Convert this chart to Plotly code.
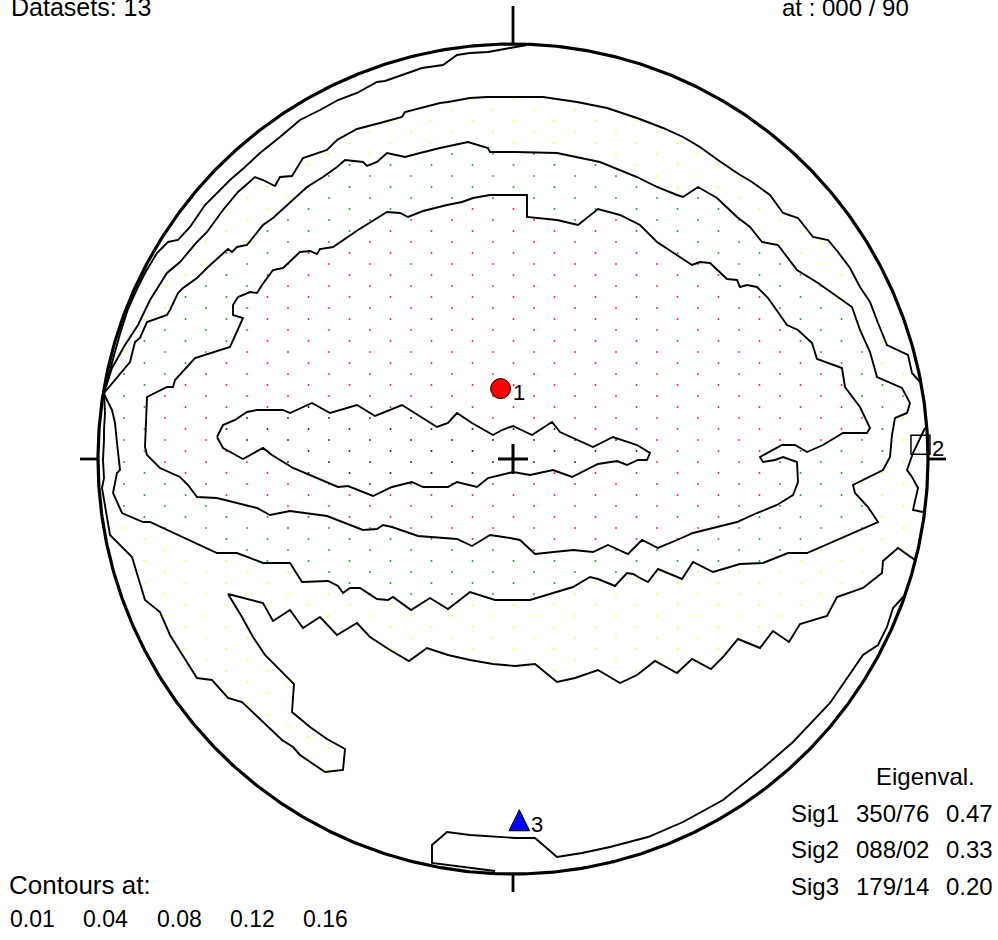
import numpy as np
import plotly.graph_objects as go

# ---------------------------------------------------------------- data
n_datasets = 13
view_trend, view_plunge = 0, 90
contour_levels = [0.01, 0.04, 0.08, 0.12, 0.16]

axis_names = ["Sig1", "Sig2", "Sig3"]
axis_trend = [350, 88, 179]
axis_plunge = [76, 2, 14]
eigenvalues = [0.47, 0.33, 0.20]

# Contour vertices on the projection plane (x east, y north), net radius = 415 units
NET_RADIUS = 415.0

contour_a = [(-409, 66), (-405, 80), (-400, 100), (-393, 125), (-385, 150), (-376, 170), (-368, 186),
             (-356, 206), (-345, 217), (-335, 219), (-323, 232), (-308, 254), (-283, 279), (-268, 292),
             (-253, 306), (-233, 322), (-213, 339), (-193, 349), (-175, 359), (-156, 366), (-136, 377),
             (-128, 378), (-110, 384), (-91, 391), (-70, 394), (-56, 404), (-43, 406), (-25, 407),
             (-3, 411), (14, 414)]

contour_b_north = [(-409, 66), (-401, 91), (-388, 114), (-375, 134), (-363, 159), (-346, 186), (-333, 197),
                   (-316, 217), (-306, 227), (-290, 249), (-275, 267), (-258, 282), (-250, 279), (-238, 273),
                   (-233, 282), (-221, 283), (-210, 301), (-186, 309), (-176, 319), (-156, 330), (-133, 336),
                   (-111, 342), (-108, 347), (-93, 351), (-73, 356), (-65, 357), (-43, 361), (-26, 362),
                   (-3, 362), (30, 362), (64, 357), (94, 351), (124, 341), (150, 331), (170, 322), (187, 312),
                   (205, 299), (224, 286), (239, 277), (257, 264), (270, 246), (285, 241), (300, 222),
                   (315, 219), (325, 207), (337, 191), (347, 172), (357, 157), (365, 136), (374, 114),
                   (395, 104), (399, 86), (407, 77)]

contour_b_south = [(-409, 66), (-408, 46), (-409, 29), (-409, 19), (-410, -1), (-409, -19), (-411, -29),
                   (-404, -73), (-403, -76), (-381, -98), (-373, -123), (-368, -141), (-353, -153),
                   (-343, -176), (-335, -189), (-316, -219), (-301, -221), (-285, -239), (-271, -243),
                   (-245, -268), (-231, -281), (-220, -288), (-213, -296), (-188, -313), (-170, -311),
                   (-168, -290), (-186, -280), (-203, -268), (-221, -253), (-219, -225), (-233, -211),
                   (-248, -196), (-260, -178), (-271, -158), (-285, -135), (-250, -144), (-240, -162),
                   (-223, -151), (-210, -169), (-193, -158), (-176, -176), (-156, -164), (-143, -178),
                   (-123, -191), (-104, -202), (-86, -189), (-65, -196), (-43, -201), (-20, -205),
                   (2, -207), (22, -205), (44, -223), (62, -219), (85, -211), (107, -224), (124, -216),
                   (142, -202), (164, -214), (179, -200), (198, -210), (210, -198), (225, -180),
                   (247, -189), (260, -172), (276, -183), (287, -165), (314, -157), (324, -138),
                   (350, -129), (369, -114), (370, -102), (385, -89), (402, -101)]

contour_b_east = [(412, 31), (400, 6), (394, -11), (399, -18), (405, -29), (400, -51), (410, -53)]

contour_c = [(-409, 66), (-383, 97), (-378, 117), (-373, 121), (-366, 137), (-346, 144), (-343, 149),
             (-335, 166), (-330, 171), (-316, 181), (-305, 192), (-295, 201), (-285, 210), (-281, 207),
             (-276, 212), (-266, 214), (-250, 234), (-240, 241), (-223, 256), (-206, 272), (-190, 282),
             (-176, 292), (-168, 299), (-150, 297), (-146, 293), (-136, 297), (-126, 306), (-108, 302),
             (-93, 306), (-73, 311), (-45, 317), (-25, 311), (-23, 307), (2, 307), (44, 306), (64, 302),
             (87, 297), (124, 282), (144, 272), (164, 264), (170, 262), (185, 272), (204, 261),
             (224, 242), (237, 232), (249, 217), (265, 214), (284, 189), (305, 176), (339, 152),
             (347, 129), (357, 107), (364, 82), (389, 71), (397, 56), (394, 46), (382, 41), (379, 24),
             (377, 2), (370, -11), (340, -26), (342, -34), (355, -48), (365, -63), (294, -94),
             (275, -94), (250, -104), (227, -105), (200, -113), (180, -103), (169, -120), (145, -110),
             (135, -123), (127, -119), (120, -115), (114, -114), (102, -127), (85, -120), (77, -118),
             (60, -128), (37, -135), (17, -141), (-3, -141), (-18, -141), (-43, -133), (-65, -150),
             (-83, -139), (-102, -151), (-120, -138), (-125, -141), (-136, -140), (-153, -129),
             (-163, -129), (-170, -134), (-175, -127), (-185, -122), (-211, -123), (-223, -104),
             (-250, -104), (-276, -94), (-296, -94), (-363, -63), (-370, -63), (-391, -54),
             (-400, -34), (-396, -14), (-393, -11), (-395, 4), (-396, 16), (-398, 36), (-401, 49),
             (-407, 61), (-409, 66)]

contour_d = [(-3, 264), (14, 264), (14, 242), (44, 239), (65, 234), (85, 250), (107, 244), (127, 234),
             (144, 217), (179, 194), (187, 197), (197, 196), (214, 180), (224, 179), (227, 172),
             (234, 174), (244, 172), (255, 161), (267, 144), (274, 134), (285, 129), (299, 116),
             (304, 100), (329, 91), (332, 72), (347, 52), (357, 31), (354, 26), (330, 26), (310, 14),
             (294, 7), (282, 14), (269, 14), (247, 2), (250, -3), (262, -1), (270, 2), (284, -3),
             (285, -23), (280, -36), (264, -46), (244, -54), (224, -63), (205, -68), (180, -74),
             (164, -81), (145, -89), (129, -81), (115, -95), (95, -86), (80, -93), (60, -91),
             (44, -93), (22, -95), (7, -81), (-3, -79), (-23, -76), (-41, -87), (-56, -80),
             (-95, -77), (-121, -68), (-130, -66), (-136, -70), (-150, -71), (-186, -57),
             (-223, -52), (-243, -56), (-256, -49), (-296, -39), (-316, -38), (-325, -26),
             (-333, -18), (-353, -9), (-366, 4), (-368, 12), (-366, 62), (-346, 72), (-340, 72),
             (-338, 79), (-318, 101), (-283, 112), (-270, 141), (-280, 144), (-280, 154),
             (-275, 162), (-263, 167), (-256, 166), (-251, 174), (-240, 189), (-230, 191),
             (-213, 207), (-203, 208), (-196, 205), (-193, 210), (-180, 212), (-155, 229),
             (-126, 247), (-113, 246), (-105, 242), (-90, 248), (-66, 254), (-51, 257), (-40, 261),
             (-23, 264), (-3, 264)]

contour_e = [(-296, 22), (-290, 34), (-278, 39), (-266, 47), (-256, 49), (-230, 49), (-223, 46),
             (-201, 56), (-183, 46), (-156, 54), (-138, 43), (-111, 54), (-76, 32), (-65, 36),
             (-56, 46), (-41, 36), (-20, 24), (-11, 29), (0, 33), (19, 24), (39, 37), (47, 27),
             (80, 12), (100, 22), (124, 14), (137, 6), (134, -1), (125, -1), (114, -6), (104, -2),
             (85, -5), (59, -18), (40, -11), (17, -16), (0, -13), (-13, -16), (-25, -19), (-36, -28),
             (-56, -23), (-65, -28), (-90, -28), (-101, -23), (-121, -28), (-140, -37), (-165, -27),
             (-175, -28), (-220, -9), (-241, 4), (-250, 11), (-270, 0), (-290, 11), (-296, 22)]

contour_f = [(-18, -412), (-81, -404), (-81, -386), (-66, -373), (-43, -376), (2, -379), (22, -379),
             (44, -398), (69, -394), (97, -388), (135, -378), (170, -363), (210, -341), (250, -309),
             (280, -283), (317, -244), (350, -196), (365, -186), (374, -168), (380, -149), (392, -136)]

# ------------------------------------------------------------- layout
W, H = 998, 940
CX, CY, RPX = 513.0, 459.0, 415.0          # net centre and radius in page pixels
FONT = "Liberation Sans, Arial, Helvetica, sans-serif"


def unit(line):
    a = np.asarray(line, dtype=float) / NET_RADIUS
    return a[:, 0], a[:, 1]


def schmidt(trend, plunge):
    """Lower-hemisphere equal-area projection onto the unit net."""
    r = np.sqrt(2.0) * np.sin(np.radians(90.0 - plunge) / 2.0)
    t = np.radians(trend)
    return r * np.sin(t), r * np.cos(t)


def inside(px, py, poly):
    xs, ys = unit(poly)
    x2, y2 = np.roll(xs, -1), np.roll(ys, -1)
    res = np.zeros(px.shape, dtype=bool)
    for a, b, c, d in zip(xs, ys, x2, y2):
        if b == d:
            continue
        cross = (b > py) != (d > py)
        xint = a + (py - b) * (c - a) / (d - b)
        res ^= cross & (px < xint)
    return res


fig = go.Figure()

# density sample grid, coloured by contour interval
gi, gj = np.meshgrid(np.arange(-30, 31), np.arange(-45, 46))
keep = (gi + gj) % 2 == 0
gx = (-61 + 20.5 * gi[keep]) / NET_RADIUS
gy = (85 + 11.0 * gj[keep]) / NET_RADIUS
in_net = gx ** 2 + gy ** 2 < 0.985 ** 2
gx, gy = gx[in_net], gy[in_net]

band_b = contour_b_north + contour_b_south[::-1]
in_e = inside(gx, gy, contour_e)
in_d = inside(gx, gy, contour_d) & ~in_e
in_c = inside(gx, gy, contour_c) & ~in_d & ~in_e
in_b = inside(gx, gy, band_b) & ~in_c & ~in_d & ~in_e

for mask, col in [(in_b, "#ffff00"), (in_c, "#009000"), (in_d, "#ff0000"), (in_e, "#000000")]:
    fig.add_trace(go.Scatter(x=gx[mask], y=gy[mask], mode="markers", hoverinfo="skip",
                             marker=dict(symbol="square", size=1.6, color=col, line=dict(width=0))))

# contour lines
for line in [contour_a, contour_b_north, contour_b_south, contour_b_east,
             contour_c, contour_d, contour_e, contour_f]:
    x, y = unit(line)
    fig.add_trace(go.Scatter(x=x, y=y, mode="lines", hoverinfo="skip",
                             line=dict(color="black", width=1.9)))

# primitive circle
th = np.linspace(0, 2 * np.pi, 721)
fig.add_trace(go.Scatter(x=np.cos(th), y=np.sin(th), mode="lines", hoverinfo="skip",
                         line=dict(color="black", width=3.2)))

# ticks and centre cross
shapes = []
tick = 18 / RPX
for (x0, y0, x1, y1) in [(0, 1, 0, 1 + 38 / RPX), (0, -1, 0, -1 - tick),
                         (-1, 0, -1 - tick, 0), (1, 0, 1 + tick, 0)]:
    shapes.append(dict(type="line", xref="x", yref="y", x0=x0, y0=y0, x1=x1, y1=y1,
                       line=dict(color="black", width=2.8)))
cs = 15 / RPX
shapes.append(dict(type="line", xref="x", yref="y", x0=-cs, y0=0, x1=cs, y1=0,
                   line=dict(color="black", width=3)))
shapes.append(dict(type="line", xref="x", yref="y", x0=0, y0=-cs, x1=0, y1=cs,
                   line=dict(color="black", width=3)))

# principal axes
ax_x, ax_y = schmidt(np.array(axis_trend, float), np.array(axis_plunge, float))
fig.add_trace(go.Scatter(x=[ax_x[0]], y=[ax_y[0]], mode="markers", hoverinfo="skip",
                         marker=dict(symbol="circle", size=20, color="#ff0000",
                                     line=dict(color="black", width=1))))
fig.add_trace(go.Scatter(x=[ax_x[1]], y=[ax_y[1]], mode="markers", hoverinfo="skip",
                         marker=dict(symbol="square-open", size=19, color="black",
                                     line=dict(color="black", width=1.5))))
hw, hh = 10.3 / RPX, 10.5 / RPX
fig.add_trace(go.Scatter(x=[ax_x[2] - hw, ax_x[2] + hw, ax_x[2], ax_x[2] - hw],
                         y=[ax_y[2] - hh, ax_y[2] - hh, ax_y[2] + hh, ax_y[2] - hh],
                         mode="lines", fill="toself", fillcolor="#0000ff", hoverinfo="skip",
                         line=dict(color="black", width=1)))

annotations = []
for k in range(3):
    annotations.append(dict(x=ax_x[k], y=ax_y[k], xref="x", yref="y", text=str(k + 1),
                            showarrow=False, xanchor="left", yanchor="middle",
                            xshift=10, yshift=-4, font=dict(family=FONT, size=22, color="black")))


def page_text(text, left, baseline, size=24):
    annotations.append(dict(x=left / W, y=1 - (baseline - 0.347 * size) / H, xref="paper",
                            yref="paper", text=text, showarrow=False, xanchor="left",
                            yanchor="middle", font=dict(family=FONT, size=size, color="black")))


page_text(f"Datasets: {n_datasets}", 9, 16, 25)
page_text(f"at : {view_trend:03d} / {view_plunge:02d}", 780, 16, 24)
page_text("Contours at:", 7, 894, 26)
for k, lev in enumerate(contour_levels):
    page_text(f"{lev:.2f}", 8 + 73.3 * k, 927, 23)
page_text("Eigenval.", 874, 785)
for k in range(3):
    base = 821.5 + 36.7 * k
    page_text(axis_names[k], 789, base)
    page_text(f"{axis_trend[k]:03d}/{axis_plunge[k]:02d}", 854, base)
    page_text(f"{eigenvalues[k]:.2f}", 944, base)

fig.update_layout(
    width=W, height=H, margin=dict(l=0, r=0, t=0, b=0), autosize=False,
    paper_bgcolor="white", plot_bgcolor="white", showlegend=False,
    xaxis=dict(range=[-CX / RPX, (W - CX) / RPX], visible=False, fixedrange=True),
    yaxis=dict(range=[-(H - CY) / RPX, CY / RPX], visible=False, fixedrange=True),
    shapes=shapes, annotations=annotations,
)

fig.write_html("out.html")
